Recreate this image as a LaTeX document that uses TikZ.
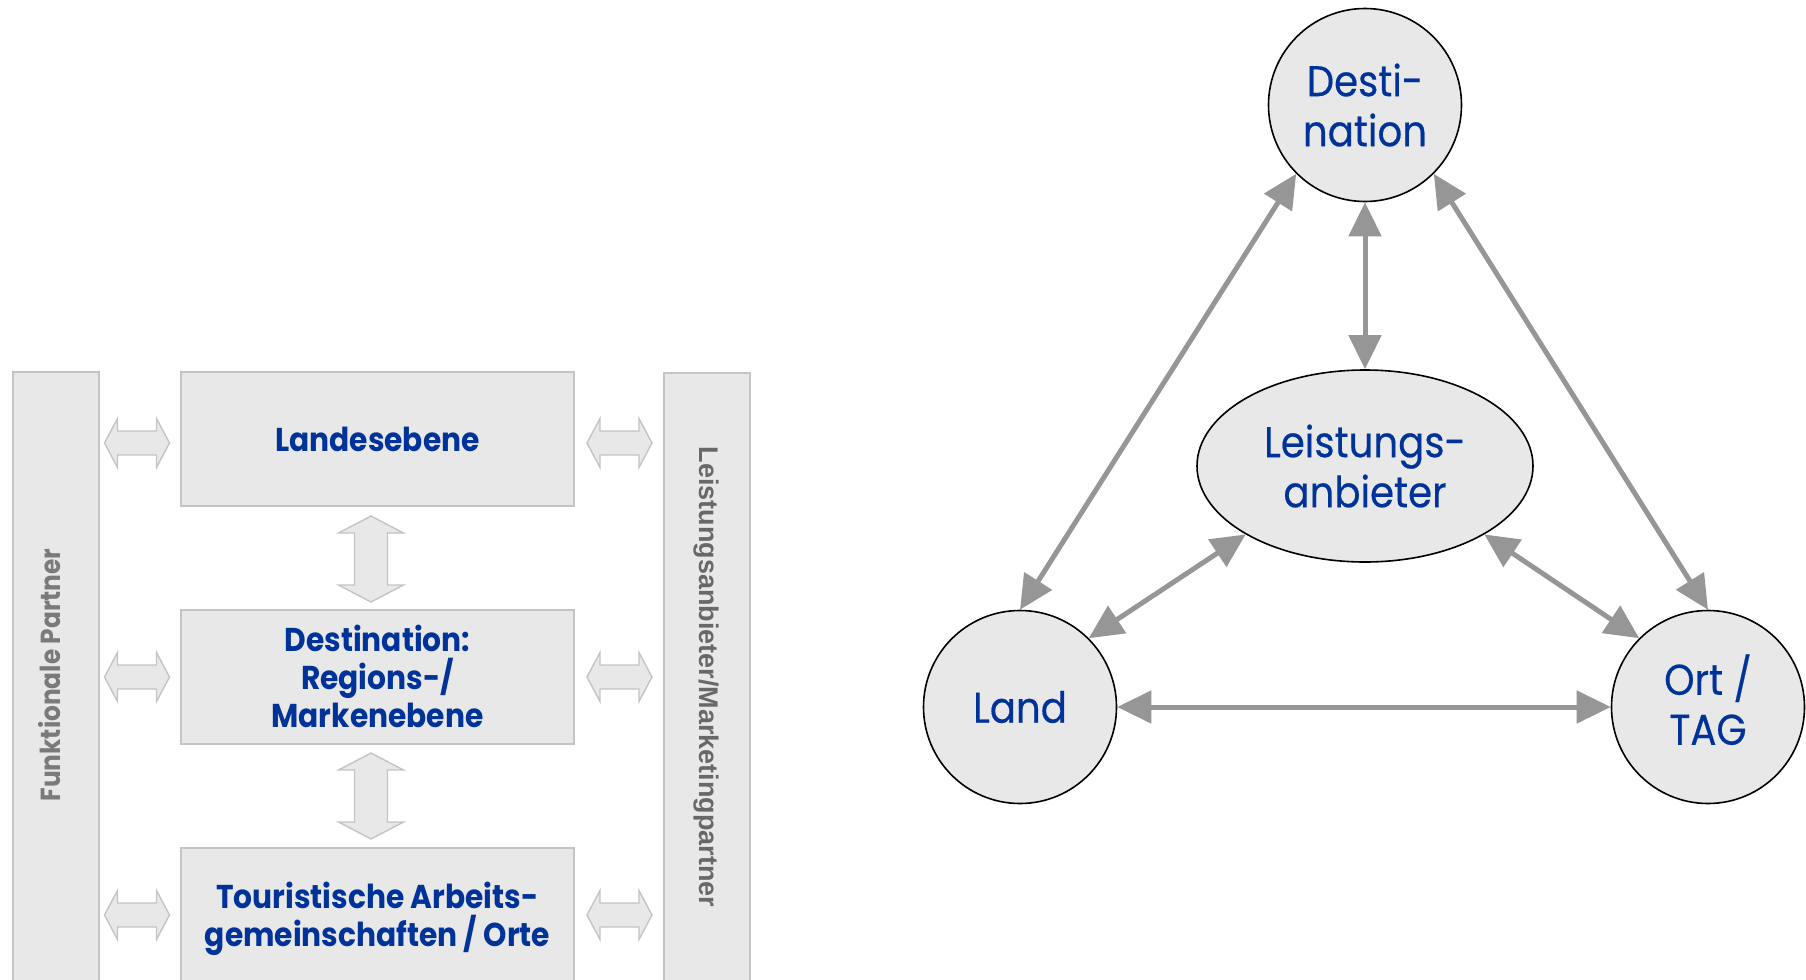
\documentclass[tikz,border=0pt]{standalone}
\usepackage{fontspec}
\setmainfont{Poppins}
\newfontfamily\popfont[FakeStretch=0.9]{Poppins}
\newfontfamily\circfont[FakeStretch=0.9,FakeBold=0.4]{Poppins}
\newfontfamily\grayfont{Liberation Sans}
\usetikzlibrary{arrows.meta,shapes.geometric}
\definecolor{txtblue}{HTML}{003399}
\definecolor{boxfill}{HTML}{E8E8E8}
\definecolor{boxline}{HTML}{C4C4C4}
\definecolor{arrgray}{HTML}{969696}
\definecolor{bartext}{HTML}{7A7A7A}
\tikzset{
  levelbox/.style={draw=boxline, fill=boxfill, line width=1pt, minimum width=196.5pt, minimum height=67pt, inner sep=0pt, align=center, font=\popfont\bfseries\fontsize{16.5}{19}\selectfont, text=txtblue},
  sidebar/.style={draw=boxline, fill=boxfill, line width=1pt, minimum width=43pt, minimum height=330pt, inner sep=0pt},
  bartxt/.style={text=bartext, inner sep=0pt},
  circnode/.style={circle, draw=black, line width=0.8pt, fill=boxfill, minimum size=96.5pt, inner sep=0pt, align=center, font=\circfont\fontsize{21.5}{25}\selectfont, text=txtblue},
  ellnode/.style={ellipse, draw=black, line width=0.8pt, fill=boxfill, minimum width=168pt, minimum height=96pt, inner sep=0pt, align=center, font=\circfont\fontsize{21.5}{25}\selectfont, text=txtblue},
  link/.style={draw=arrgray, line width=2.5pt, {Triangle[length=17pt,width=16pt]}-{Triangle[length=17pt,width=16pt]}},
  blockarrow/.style={draw=boxline, fill=boxfill, line width=0.7pt, line join=miter},
  harrow/.pic={\path[blockarrow] (-32.5,0) -- (-19.5,-24.5) -- (-19.5,-12) -- (19.5,-12) -- (19.5,-24.5) -- (32.5,0) -- (19.5,24.5) -- (19.5,12) -- (-19.5,12) -- (-19.5,24.5) -- cycle;},
  varrow/.pic={\path[blockarrow] (0,-43) -- (32.5,-26) -- (16.5,-26) -- (16.5,26) -- (32.5,26) -- (0,43) -- (-32.5,26) -- (-16.5,26) -- (-16.5,-26) -- (-32.5,-26) -- cycle;}
}
\begin{document}
\begin{tikzpicture}[x=0.5pt,y=-0.5pt]
\useasboundingbox (0,0) rectangle (1806,980);
\clip (0,0) rectangle (1806,980);
% left part
\node[sidebar, anchor=north west] (lbar) at (11.5,371) {};
\node[sidebar, anchor=north west] (rbar) at (663,372) {};
\node[bartxt, rotate=90, font=\popfont\bfseries\fontsize{13.8}{16}\selectfont] (ltext) at (49.5,675) {Funktionale Partner};
\node[bartxt, rotate=-90, font=\grayfont\bfseries\fontsize{13.5}{16}\selectfont, text=bartext!85!black] (rtext) at (706,677) {Leistungsanbieter/Marketingpartner};
\node[levelbox] (land) at (377.5,439) {Landesebene};
\node[levelbox] (dest) at (377.5,676.5) {Destination:\\Regions-/\\Markenebene};
\node[levelbox, text height=0pt, text depth=0pt] (tag) at (377.5,915) {};
\node[font=\popfont\bfseries\fontsize{16.5}{19}\selectfont, text=txtblue, align=center, inner sep=0pt] (tagtext) at (377.5,919) {Touristische Arbeits-\\gemeinschaften / Orte};
\pic at (137,443) {harrow};
\pic at (137,677) {harrow};
\pic at (137,915) {harrow};
\pic at (619.5,443) {harrow};
\pic at (619.5,677) {harrow};
\pic at (619.5,915) {harrow};
\pic at (371,559) {varrow};
\pic at (371,796) {varrow};
% right part
\node[circnode] (cdest) at (1365,105) {Desti-\\nation};
\node[ellnode] (cleist) at (1365,466) {Leistungs-\\anbieter};
\node[circnode] (cland) at (1020,707) {Land};
\node[circnode] (cort) at (1708,707) {\raisebox{3pt}{\begin{tabular}{@{}c@{}}Ort /\\TAG\end{tabular}}};
\draw[link] (cdest.south west) -- (cland.north);
\draw[link] (cdest.south) -- (cleist.north);
\draw[link] (cdest.south east) -- (cort.north);
\draw[link] (cleist.south west) -- (cland.north east);
\draw[link] (cleist.south east) -- (cort.north west);
\draw[link] (cland.east) -- (cort.west);
\end{tikzpicture}
\end{document}
